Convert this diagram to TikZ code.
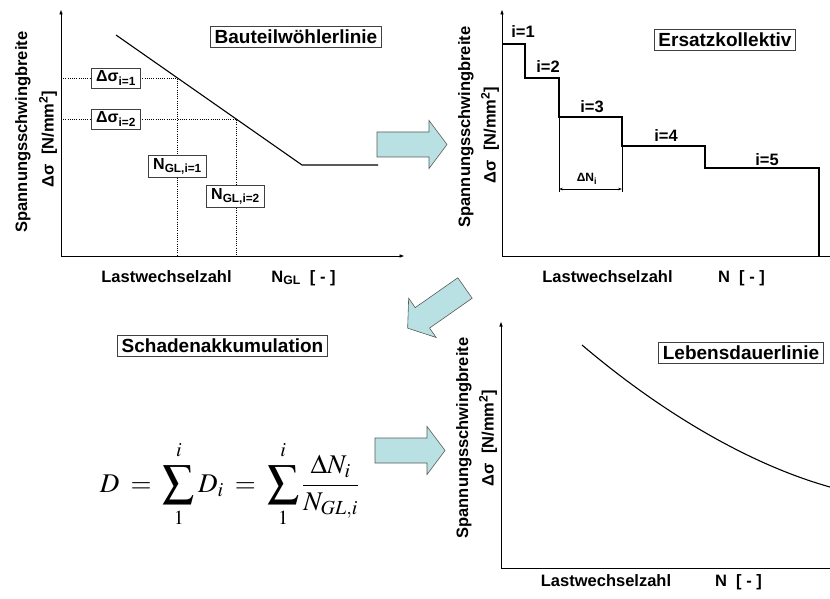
\documentclass[tikz,border=0pt]{standalone}
\usepackage{mathptmx}
\usepackage{graphicx}
\usepackage[no-math]{fontspec}
\setmainfont{Liberation Sans}
\usetikzlibrary{arrows.meta}
\definecolor{arrowblue}{RGB}{185,224,226}
\newcommand\bigsumop{\mathop{\vcenter{\hbox{\scalebox{1.16}{$\displaystyle\sum$}}}}\limits}
\newcommand\uplim[1]{\raisebox{4pt}{$\scriptstyle #1$}}
\newcommand\lowlim[1]{\raisebox{-4pt}{$\scriptstyle #1$}}

\tikzset{
  axis/.style={line width=0.8pt, -{Triangle[length=4.5pt,width=3.2pt]}},
  graphline/.style={line width=1.1pt, line join=miter},
  guide/.style={line width=0.6pt, dash pattern=on 1pt off 1.2pt},
  titlebox/.style={draw=black!75, line width=0.8pt, fill=white,
    font=\fontsize{19}{21}\selectfont\bfseries, inner xsep=4pt, inner ysep=3.5pt},
  valbox/.style={draw=black!75, line width=0.8pt, fill=white,
    font=\fontsize{16}{18}\selectfont\bfseries, inner xsep=5pt, inner ysep=3pt},
  axlab/.style={font=\fontsize{16.5}{18}\selectfont\bfseries, anchor=base},
  ylab/.style={font=\fontsize{16.5}{18}\selectfont\bfseries, rotate=90, inner sep=0pt},
  steplab/.style={font=\fontsize{16.5}{18}\selectfont\bfseries, anchor=base, inner sep=0pt},
  blockarrow/.style={draw=black!65, line width=0.6pt, fill=arrowblue, line join=miter},
  fatarrow/.pic={\path[blockarrow] (0,12.5) -- (52,12.5) -- (52,24) -- (70,0)
      -- (52,-24) -- (52,-12.5) -- (0,-12.5) -- cycle;}
}

\begin{document}
\begin{tikzpicture}[x=1pt, y=-1pt]
\useasboundingbox (0,0) rectangle (830,599);

% ---------- S-N curve of the component ----------
\coordinate (o1) at (61,256);
\coordinate (y1) at (61,10);
\coordinate (x1) at (404,256);
\draw[axis] (o1) -- (y1);
\draw[axis] (o1) -- (x1);
\coordinate (w1) at (116,35);
\coordinate (w2) at (302,165);
\coordinate (w3) at (378,165);
\draw[graphline] (w1) -- (w2) -- (w3);
\coordinate (p1) at (177,78);
\coordinate (p2) at (236,119);
\draw[guide] (61,78) -- (p1) -- (177,256);
\draw[guide] (61,119) -- (p2) -- (236,256);
\node[valbox] (s1) at (116,78) {Δσ\textsubscript{i=1}};
\node[valbox] (s2) at (116,119) {Δσ\textsubscript{i=2}};
\node[valbox] (n1) at (177.5,166) {N\textsubscript{GL,i=1}};
\node[valbox] (n2) at (235.5,196) {N\textsubscript{GL,i=2}};
\node[titlebox] (t1) at (296,37) {Bauteilwöhlerlinie};
\node[ylab] (ya1) at (23,132) {Spannungsschwingbreite};
\node[ylab] (yb1) at (48,139) {Δσ\ \ [N/mm\textsuperscript{2}]};
\node[axlab] (xa1) at (166.5,282) {Lastwechselzahl};
\node[axlab] (xb1) at (303.5,282) {N\textsubscript{GL}\ \ [ - ]};

% ---------- equivalent load spectrum ----------
\coordinate (o2) at (502,256);
\coordinate (y2) at (502,10);
\draw[axis] (o2) -- (y2);
\draw[line width=0.8pt] (o2) -- (830,256);
\draw[graphline] (502,44) -| (525,78) -| (559,117) -| (622,146) -| (705,168) -| (819,256);
\coordinate (d1) at (559,189);
\coordinate (d2) at (622,189);
\draw[line width=0.6pt] (559,117) -- (559,192);
\draw[line width=0.6pt] (622,146) -- (622,192);
\draw[line width=0.6pt, {Stealth[length=4pt,width=2.6pt]}-{Stealth[length=4pt,width=2.6pt]}] (d1) -- (d2);
\node[font=\fontsize{12}{13}\selectfont\bfseries, anchor=base] (dn) at (587,182) {ΔN\textsubscript{i}};
\node[steplab] (i1) at (523,38) {i=1};
\node[steplab] (i2) at (548,72.5) {i=2};
\node[steplab] (i3) at (592,113) {i=3};
\node[steplab] (i4) at (666,141.5) {i=4};
\node[steplab] (i5) at (767,165) {i=5};
\node[titlebox] (t2) at (725,40) {Ersatzkollektiv};
\node[ylab] (ya2) at (466,127) {Spannungsschwingbreite};
\node[ylab] (yb2) at (490,135) {Δσ\ \ [N/mm\textsuperscript{2}]};
\node[axlab] (xa2) at (607.5,282) {Lastwechselzahl};
\node[axlab] (xb2) at (741.5,282) {N\ \ [ - ]};

% ---------- damage accumulation ----------
\node[titlebox] (t3) at (222.5,345.5) {Schadenakkumulation};
\node[inner sep=0pt, anchor=base, font=\fontsize{27}{32}\selectfont] (eq) at (229.5,492)
  {$\thickmuskip=7.5mu\displaystyle D=\bigsumop_{\lowlim{1}}^{\uplim{i}} D_i=\bigsumop_{\lowlim{1}}^{\uplim{i}}\frac{\Delta N_i}{N_{GL,i}}$};

% ---------- service life curve ----------
\coordinate (o3) at (501,568);
\coordinate (y3) at (501,322);
\draw[axis] (o3) -- (y3);
\draw[line width=0.8pt] (o3) -- (830,568);
\coordinate (c0) at (582,345);
\coordinate (c3) at (830,487);
\draw[graphline] (c0) .. controls (662,413) and (750,464.6) .. (c3);
\node[titlebox] (t4) at (741,352.5) {Lebensdauerlinie};
\node[ylab] (ya3) at (464,438) {Spannungsschwingbreite};
\node[ylab] (yb3) at (488,438) {Δσ\ \ [N/mm\textsuperscript{2}]};
\node[axlab] (xa3) at (606,586) {Lastwechselzahl};
\node[axlab] (xb3) at (738.5,586) {N\ \ [ - ]};

% ---------- block arrows between the panels ----------
\pic at (377,144.5) {fatarrow};
\pic[rotate=215] at (465,288) {fatarrow};
\pic at (375,450.5) {fatarrow};
\end{tikzpicture}
\end{document}
